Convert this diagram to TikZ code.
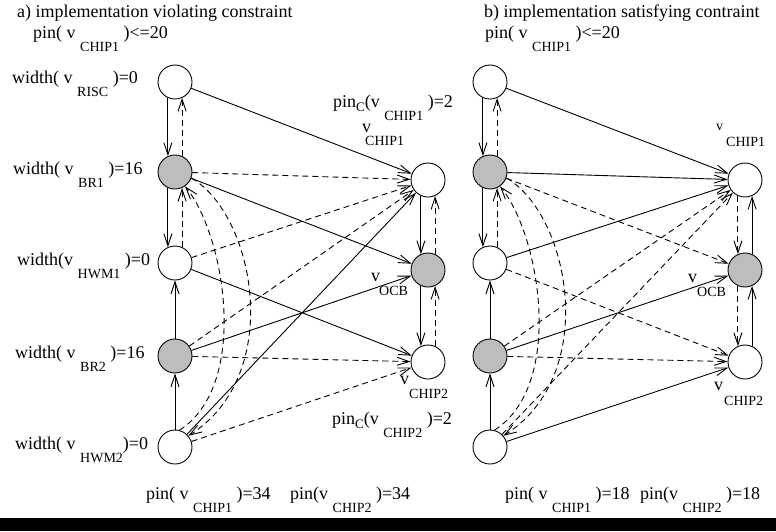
\documentclass[tikz,border=0pt]{standalone}
\usepackage{fontspec}
\setmainfont{Liberation Serif}
\usetikzlibrary{arrows.meta}
\definecolor{stip}{gray}{0.74}
% lowered subscript-like tags used throughout the labels
\newcommand{\sbx}[1]{\raisebox{-13pt}{\fontsize{14}{16}\selectfont #1}}
\newcommand{\sbc}[1]{\raisebox{-4pt}{\fontsize{13}{15}\selectfont #1}}
\begin{document}
\begin{tikzpicture}[x=1pt,y=-1pt,
  vtx/.style={circle,draw,line width=0.9pt,minimum size=34pt,inner sep=0pt,fill=white},
  grayvtx/.style={vtx,fill=stip},
  lab/.style={anchor=base west,inner sep=0pt,font=\fontsize{18}{20}\selectfont},
  smalllab/.style={anchor=base west,inner sep=0pt,font=\fontsize{14}{16}\selectfont},
  edge/.style={line width=0.9pt,-{Straight Barb[length=12pt,width=8pt,line width=0.9pt]}},
  dedge/.style={edge,dash pattern=on 6pt off 4pt}
]
\useasboundingbox (0,0) rectangle (776,531);
\fill[black] (0,518) rectangle (776,531);

% ---------------- a) ----------------
\node[lab] (ta) at (17,17) {a) implementation violating constraint};
\node[lab] (pa) at (33,38) {pin( v \sbx{CHIP1} )<=20};

\node[vtx]     (risc)  at (175,82)  {};
\node[grayvtx] (br1)   at (175,172) {};
\node[vtx]     (hwm1)  at (175,263) {};
\node[grayvtx] (br2)   at (175,356) {};
\node[vtx]     (hwm2)  at (175,447) {};
\node[vtx]     (chip1) at (428,180) {};
\node[grayvtx] (ocb)   at (428,270) {};
\node[vtx]     (chip2) at (428,362) {};

\node[lab] (wa1) at (12,83)  {width( v \sbx{RISC} )=0};
\node[lab] (wa2) at (13,174) {width( v \sbx{BR1} )=16};
\node[lab] (wa3) at (17,265) {width(v \sbx{HWM1} )=0};
\node[lab] (wa4) at (15,358) {width( v \sbx{BR2} )=16};
\node[lab] (wa5) at (15,449) {width( v \sbx{HWM2})=0};

\node[lab] (pca1) at (333,107) {pin\sbc{C}(v \sbx{CHIP1} )=2};
\node[lab] (vca1) at (362,132) {v};
\node[smalllab] (nca1) at (365,145) {CHIP1};
\node[lab] (voa) at (371,281) {v};
\node[smalllab] (noa) at (379,295) {OCB};
\node[lab] (vca2) at (400,384) {v};
\node[smalllab] (nca2) at (409,398) {CHIP2};
\node[lab] (pca2) at (332,424) {pin\sbc{C}(v \sbx{CHIP2} )=2};

\node[lab] (ba1) at (146,499) {pin( v \sbx{CHIP1} )=34};
\node[lab] (ba2) at (290,499) {pin(v \sbx{CHIP2} )=34};

% left column
\draw[edge]  (risc.-114) -- (br1.114);
\draw[dedge] (br1.66) -- (risc.-66);
\draw[edge]  (br1.-114) -- (hwm1.114);
\draw[dedge] (hwm1.66) -- (br1.-66);
\draw[edge]  (br2) -- (hwm1);
\draw[edge]  (hwm2) -- (br2);
\draw[dedge] (br1.-20) .. controls (255,215) and (285,375) .. (hwm2.40);
\draw[dedge] (hwm2.75) .. controls (250,385) and (225,235) .. (br1.-55);
% right column
\draw[edge]  (chip1.-114) -- (ocb.114);
\draw[dedge] (ocb.66) -- (chip1.-66);
\draw[edge]  (ocb.-114) -- (chip2.114);
\draw[dedge] (chip2.66) -- (ocb.-66);
% across
\draw[edge]  (risc) -- (chip1);
\draw[dedge] (br1) -- (chip1);
\draw[edge]  (br1) -- (ocb);
\draw[dedge] (hwm1) -- (chip1);
\draw[edge]  (hwm1) -- (chip2);
\draw[dedge] (br2) -- (chip1);
\draw[edge]  (br2) -- (ocb);
\draw[dedge] (br2) -- (chip2);
\draw[edge]  (hwm2) -- (chip1);
\draw[dedge] (hwm2) -- (chip2);

% ---------------- b) ----------------
\node[lab] (tb) at (484,17) {b) implementation satisfying contraint};
\node[lab] (pb) at (485,38) {pin( v \sbx{CHIP1} )<=20};

\node[vtx]     (Risc)  at (490,82)  {};
\node[grayvtx] (Br1)   at (490,172) {};
\node[vtx]     (Hwm1)  at (490,263) {};
\node[grayvtx] (Br2)   at (490,356) {};
\node[vtx]     (Hwm2)  at (490,447) {};
\node[vtx]     (Chip1) at (745,180) {};
\node[grayvtx] (Ocb)   at (745,270) {};
\node[vtx]     (Chip2) at (745,362) {};

\node[smalllab] (vcb1) at (716,130) {v};
\node[smalllab] (ncb1) at (726,146) {CHIP1};
\node[lab] (vob) at (688,282) {v};
\node[smalllab] (nob) at (697,296) {OCB};
\node[lab] (vcb2) at (714,390) {v};
\node[smalllab] (ncb2) at (724,405) {CHIP2};

\node[lab] (bb1) at (505,499) {pin( v \sbx{CHIP1} )=18};
\node[lab] (bb2) at (640,499) {pin(v \sbx{CHIP2} )=18};

% left column
\draw[edge]  (Risc.-114) -- (Br1.114);
\draw[dedge] (Br1.66) -- (Risc.-66);
\draw[edge]  (Br1.-114) -- (Hwm1.114);
\draw[dedge] (Hwm1.66) -- (Br1.-66);
\draw[edge]  (Br2) -- (Hwm1);
\draw[edge]  (Hwm2) -- (Br2);
\draw[dedge] (Br1.-20) .. controls (570,215) and (600,375) .. (Hwm2.40);
\draw[dedge] (Hwm2.75) .. controls (565,385) and (540,235) .. (Br1.-55);
% right column
\draw[dedge] (Chip1.-114) -- (Ocb.114);
\draw[edge]  (Ocb.66) -- (Chip1.-66);
\draw[dedge] (Ocb.-114) -- (Chip2.114);
\draw[edge]  (Chip2.66) -- (Ocb.-66);
% across
\draw[edge]  (Risc) -- (Chip1);
\draw[edge]  (Br1) -- (Chip1);
\draw[dedge] (Br1) -- (Ocb);
\draw[edge]  (Hwm1) -- (Chip1);
\draw[dedge] (Hwm1) -- (Chip2);
\draw[dedge] (Br2) -- (Chip1);
\draw[edge]  (Br2) -- (Ocb);
\draw[dedge] (Br2) -- (Chip2);
\draw[dedge] (Hwm2) -- (Chip1);
\draw[edge]  (Hwm2) -- (Chip2);
\end{tikzpicture}
\end{document}
